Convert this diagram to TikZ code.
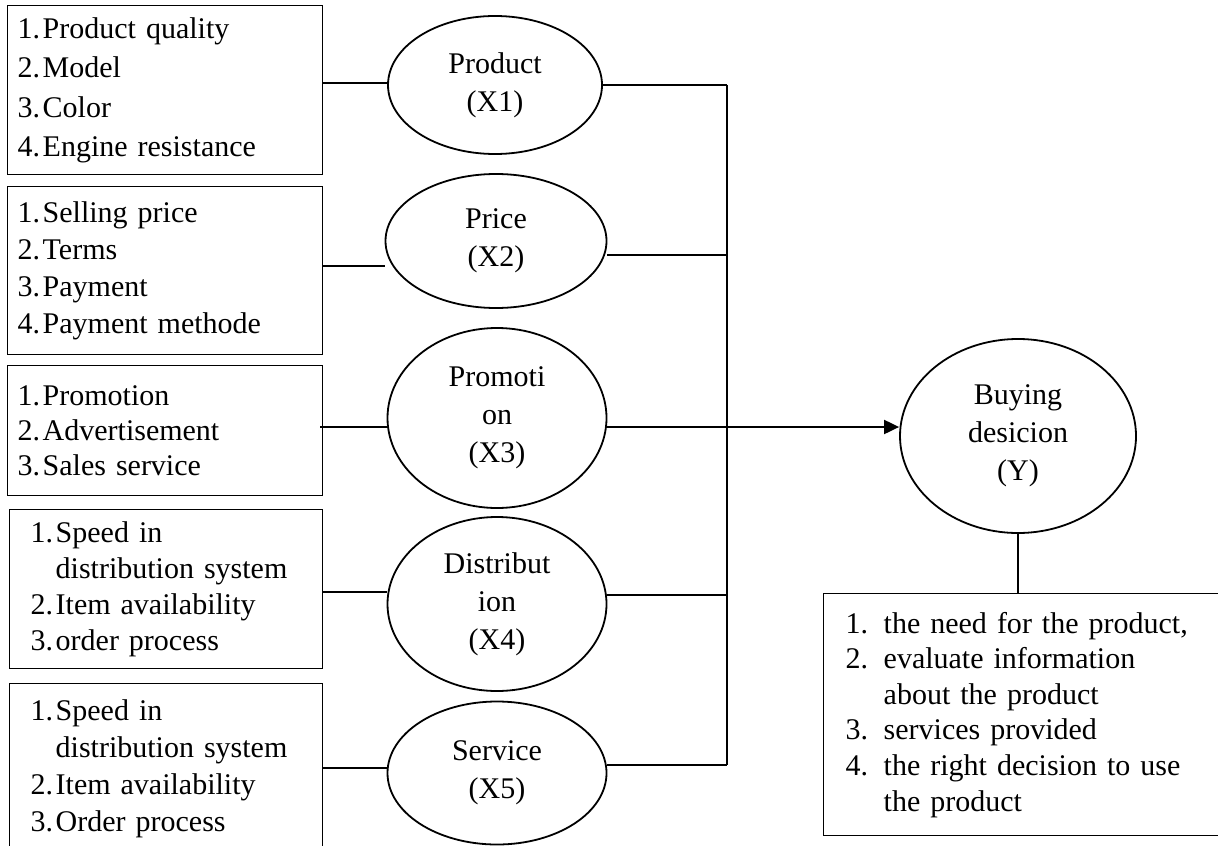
\documentclass[tikz,border=0pt]{standalone}
\usepackage{fontspec}
\setmainfont{Liberation Serif}
\usetikzlibrary{shapes.geometric,arrows.meta}
\newcommand{\nr}[1]{\makebox[12.5pt][l]{#1}}
\newcommand{\ynr}[1]{\makebox[19pt][l]{#1}}

\begin{document}
\begin{tikzpicture}[x=0.5pt,y=-0.5pt,
    indbox/.style={draw,line width=0.7pt,rectangle,anchor=north west,align=left,inner xsep=5pt,inner ysep=0pt,minimum width=157.5pt,text width=147.5pt},
    var/.style={draw,ellipse,line width=0.9pt,inner sep=0pt,align=center,font=\fontsize{15}{19}\selectfont},
    link/.style={line width=0.75pt}]
    \useasboundingbox (0,0) rectangle (1218,845);

    % indicator boxes
    \node[indbox,minimum height=84.5pt,font=\fontsize{15}{19.75}\selectfont] (b1) at (7,5)
        {\nr{1.}Product quality\\ \nr{2.}Model\\ \nr{3.}Color\\ \nr{4.}Engine resistance};
    \node[indbox,minimum height=84pt,font=\fontsize{15}{18.5}\selectfont] (b2) at (7,186)
        {\nr{1.}Selling price\\ \nr{2.}Terms\\ \nr{3.}Payment\\ \nr{4.}Payment methode};
    \node[indbox,minimum height=65pt,font=\fontsize{15}{17.5}\selectfont] (b3) at (7,365)
        {\nr{1.}Promotion\\ \nr{2.}Advertisement\\ \nr{3.}Sales service};
    \node[indbox,minimum height=79.5pt,minimum width=156.5pt,inner xsep=10.5pt,text width=135.5pt,font=\fontsize{15}{18}\selectfont] (b4) at (9,509)
        {\nr{1.}Speed in\\ \nr{}distribution system\\ \nr{2.}Item availability\\ \nr{3.}order process};
    \node[indbox,minimum height=85pt,minimum width=156.5pt,inner xsep=10.5pt,text width=135.5pt,font=\fontsize{15}{18.5}\selectfont] (b5) at (9,683)
        {\nr{1.}Speed in\\ \nr{}distribution system\\ \nr{2.}Item availability\\ \nr{3.}Order process};

    % variables
    \node[var,minimum width=107pt,minimum height=69pt] (e1) at (495,85) {Product\\(X1)};
    \node[var,minimum width=110.5pt,minimum height=67pt] (e2) at (496,241) {Price\\(X2)};
    \node[var,minimum width=109.5pt,minimum height=90pt] (e3) at (497,418) {Promoti\\on\\(X3)};
    \node[var,minimum width=109.5pt,minimum height=87pt] (e4) at (497,604) {Distribut\\ion\\(X4)};
    \node[var,minimum width=109.5pt,minimum height=71.5pt] (e5) at (497,773) {Service\\(X5)};
    \node[var,minimum width=118pt,minimum height=97pt] (ey) at (1018,436) {Buying\\desicion\\(Y)};

    \node[draw,line width=0.7pt,rectangle,anchor=north west,align=left,inner xsep=11pt,inner ysep=0pt,
        minimum width=203.5pt,minimum height=121pt,text width=181.5pt,font=\fontsize{15}{17.8}\selectfont] (yb) at (823,593)
        {\ynr{1.}the need for the product,\\ \ynr{2.}evaluate information\\ \ynr{}about the product\\
         \ynr{3.}services provided\\ \ynr{4.}the right decision to use\\ \ynr{}the product};

    % box to variable
    \draw[link] (b1.east |- 0,83) -- (e1.west |- 0,83);
    \draw[link] (b2.east |- 0,266) -- (e2.west |- 0,266);
    \draw[link] (320,427) -- (e3.west |- 0,427);
    \draw[link] (b4.east |- 0,592) -- (e4.west |- 0,592);
    \draw[link] (b5.east |- 0,768) -- (e5.west |- 0,768);

    % bus to Y
    \coordinate (bt) at (727,85);
    \coordinate (bb) at (727,765);
    \draw[line width=1pt] (bt) -- (bb);
    \draw[link] (e1.east) -- (bt);
    \draw[link] (e2.east |- 0,255) -- (bt |- 0,255);
    \draw[link] (e4.east |- 0,595) -- (bt |- 0,595);
    \draw[link] (e5.east |- 0,765) -- (bb);
    \draw[line width=1pt,-{Triangle[length=7.5pt,width=7pt]}] (e3.east |- 0,427) -- (ey.west |- 0,427);
    \draw[link] (ey.south) -- (ey.south |- yb.north);
\end{tikzpicture}
\end{document}
